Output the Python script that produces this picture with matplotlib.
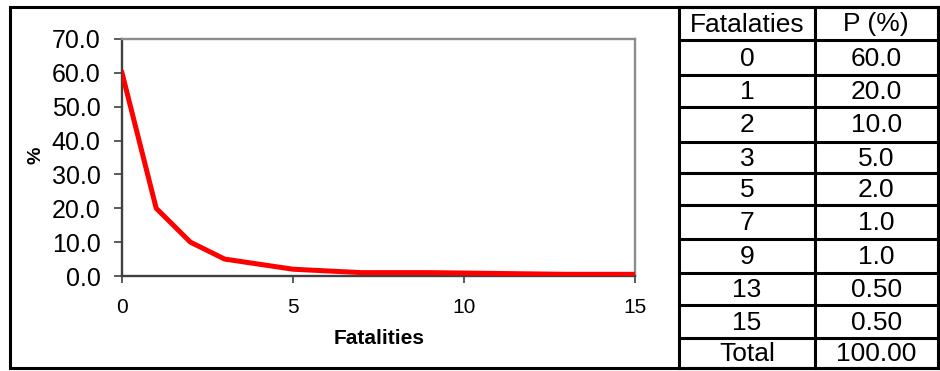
import matplotlib
matplotlib.use("Agg")
import matplotlib.pyplot as plt

plt.rcParams['font.family'] = ['Liberation Sans', 'DejaVu Sans']

# Number of fatalities per accident and the probability of each outcome (%)
fatalities = [0, 1, 2, 3, 5, 7, 9, 13, 15]
probability = [60.0, 20.0, 10.0, 5.0, 2.0, 1.0, 1.0, 0.5, 0.5]
table_header = ["Fatalaties", "P (%)"]
total_label = "Total"
y_ticks = [0, 10, 20, 30, 40, 50, 60, 70]
x_ticks = [0, 5, 10, 15]

W, H = 940, 371
fig = plt.figure(figsize=(W / 100, H / 100), dpi=100)

# Pixel-space overlay for the frame and the table
ov = fig.add_axes([0, 0, 1, 1])
ov.set_xlim(0, W)
ov.set_ylim(H, 0)
ov.axis("off")

lw_frame = 2.2
frame_left, frame_right, frame_top, frame_bottom = 10, 937.5, 7, 368
ov.plot([frame_left, frame_right, frame_right, frame_left, frame_left],
        [frame_top, frame_top, frame_bottom, frame_bottom, frame_top],
        color="black", lw=lw_frame, solid_capstyle="projecting",
        solid_joinstyle="miter")

col_edges = [679, 815, frame_right]
row_edges = [frame_top, 40, 75, 107, 142, 173, 205, 239, 273, 305, 338, frame_bottom]
for x in col_edges:
    ov.plot([x, x], [frame_top, frame_bottom], color="black", lw=lw_frame,
            solid_capstyle="projecting")
for y in row_edges:
    ov.plot([col_edges[0], col_edges[-1]], [y, y], color="black", lw=lw_frame,
            solid_capstyle="projecting")


def fmt_p(p):
    return f"{p:.1f}" if p >= 1 else f"{p:.2f}"


rows = [table_header]
rows += [[str(f), fmt_p(p)] for f, p in zip(fatalities, probability)]
rows += [[total_label, f"{sum(probability):.2f}"]]

col_centers = [(col_edges[i] + col_edges[i + 1]) / 2 for i in range(2)]
for r, cells in enumerate(rows):
    yc = (row_edges[r] + row_edges[r + 1]) / 2 + 1
    for c, txt in enumerate(cells):
        ov.text(col_centers[c], yc, txt, ha="center", va="center",
                fontsize=19, color="black")

# Line chart
ax_l, ax_r, ax_t, ax_b = 122, 635, 39, 276
ax = fig.add_axes([ax_l / W, 1 - ax_b / H, (ax_r - ax_l) / W, (ax_b - ax_t) / H])
ax.plot(fatalities, probability, color="#FF0000", lw=3.6, solid_joinstyle="round",
        zorder=3)
ax.set_xlim(0, 15)
ax.set_ylim(0, 70)
ax.set_yticks(y_ticks)
ax.set_yticklabels([f"{v:.1f}" for v in y_ticks])
ax.set_xticks(x_ticks)
ax.set_xticklabels([str(v) for v in x_ticks])
ax.set_facecolor("white")

for side in ("left", "bottom"):
    ax.spines[side].set_color("#404040")
    ax.spines[side].set_linewidth(1.7)
for side in ("top", "right"):
    ax.spines[side].set_color("#8c8c8c")
    ax.spines[side].set_linewidth(1.7)

ax.tick_params(axis="y", direction="out", length=6, width=1.2, color="#404040",
               labelsize=18, pad=9.5)
ax.tick_params(axis="x", direction="out", length=5, width=1.2, color="#404040",
               labelsize=15, pad=11)

ax.set_xlabel("Fatalities", fontsize=15, fontweight="bold")
ax.xaxis.set_label_coords((379 - ax_l) / (ax_r - ax_l), (ax_b - 338) / (ax_b - ax_t))
ax.xaxis.label.set_va("center")
ax.set_ylabel("%", fontsize=14, fontweight="bold")
ax.yaxis.set_label_coords((36 - ax_l) / (ax_r - ax_l), (ax_b - 155) / (ax_b - ax_t))
ax.yaxis.label.set_va("center")

fig.savefig("out.png", dpi=100)
